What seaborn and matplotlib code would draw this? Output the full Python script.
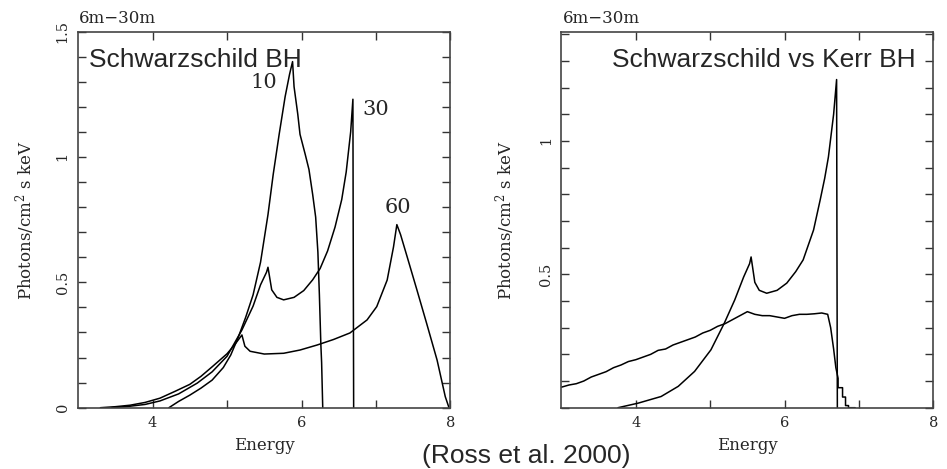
import matplotlib
matplotlib.use("Agg")
import matplotlib.pyplot as plt
import seaborn as sns
import pandas as pd
from matplotlib.ticker import MultipleLocator, FixedLocator, FuncFormatter

# ---------------- data ----------------
# Left panel: Schwarzschild BH, inclinations 10, 30, 60 deg
e10 = [4.22, 4.35, 4.5, 4.65, 4.8, 4.95, 5.05, 5.15, 5.25, 5.35, 5.45, 5.55, 5.62, 5.7,
       5.78, 5.84, 5.88, 5.9, 5.95, 5.98, 6.05, 6.1, 6.15, 6.19, 6.22, 6.24, 6.26, 6.27, 6.285]
f10 = [0.0, 0.025, 0.05, 0.078, 0.11, 0.16, 0.21, 0.28, 0.36, 0.45, 0.58, 0.77, 0.93, 1.09,
       1.24, 1.33, 1.38, 1.28, 1.17, 1.09, 1.01, 0.95, 0.85, 0.76, 0.62, 0.45, 0.25, 0.18, 0.0]

e30 = [3.45, 3.7, 3.9, 4.1, 4.35, 4.6, 4.8, 5.0, 5.2, 5.35, 5.45, 5.53, 5.55, 5.6, 5.67,
       5.76, 5.9, 6.03, 6.15, 6.25, 6.35, 6.45, 6.54, 6.6, 6.66, 6.69, 6.695, 6.70]
f30 = [0.0, 0.006, 0.013, 0.027, 0.055, 0.098, 0.143, 0.205, 0.31, 0.405, 0.49, 0.54, 0.56,
       0.47, 0.44, 0.43, 0.44, 0.467, 0.51, 0.555, 0.625, 0.72, 0.83, 0.94, 1.10, 1.23, 0.57, 0.0]

e60 = [3.3, 3.5, 3.7, 3.9, 4.1, 4.3, 4.5, 4.65, 4.8, 5.0, 5.1, 5.2, 5.24, 5.31, 5.5, 5.76,
       5.98, 6.21, 6.43, 6.65, 6.88, 7.01, 7.15, 7.235, 7.28, 7.33, 7.42, 7.55, 7.68, 7.82,
       7.93, 7.98]
f60 = [0.0, 0.004, 0.01, 0.021, 0.038, 0.065, 0.093, 0.125, 0.163, 0.215, 0.25, 0.29, 0.245,
       0.225, 0.214, 0.217, 0.23, 0.25, 0.272, 0.298, 0.35, 0.403, 0.509, 0.641, 0.73, 0.69,
       0.60, 0.469, 0.336, 0.19, 0.044, 0.0]

# Right panel: Schwarzschild vs Kerr BH
e_schw = [3.76, 4.03, 4.34, 4.57, 4.79, 5.01, 5.19, 5.33, 5.45, 5.53, 5.55, 5.6, 5.66, 5.76,
          5.9, 6.03, 6.15, 6.25, 6.39, 6.48, 6.54, 6.59, 6.66, 6.7, 6.705, 6.71]
f_schw = [0.0, 0.017, 0.042, 0.08, 0.136, 0.217, 0.317, 0.404, 0.49, 0.54, 0.565, 0.47, 0.44,
          0.429, 0.44, 0.467, 0.51, 0.554, 0.666, 0.78, 0.86, 0.94, 1.10, 1.23, 0.57, 0.0]

e_kerr = [3.0, 3.1, 3.2, 3.3, 3.4, 3.5, 3.6, 3.7, 3.8, 3.9, 4.0, 4.1, 4.2, 4.3, 4.4, 4.5,
          4.6, 4.7, 4.8, 4.9, 5.0, 5.1, 5.2, 5.3, 5.4, 5.5, 5.6, 5.7, 5.8, 5.9, 6.0, 6.1,
          6.2, 6.3, 6.4, 6.5, 6.58, 6.62, 6.66, 6.69, 6.72, 6.72, 6.78, 6.78, 6.82, 6.82,
          6.86, 6.86, 6.95]
f_kerr = [0.077, 0.085, 0.09, 0.10, 0.115, 0.125, 0.135, 0.15, 0.16, 0.173, 0.18, 0.19,
          0.20, 0.215, 0.22, 0.235, 0.245, 0.255, 0.265, 0.28, 0.29, 0.305, 0.315, 0.33,
          0.345, 0.36, 0.35, 0.345, 0.345, 0.34, 0.335, 0.345, 0.35, 0.35, 0.352, 0.355,
          0.35, 0.30, 0.22, 0.15, 0.11, 0.075, 0.075, 0.04, 0.04, 0.008, 0.008, 0.0, 0.0]

curve_labels = ["10", "30", "60"]
range_label = "6m\u221230m"
titles = ["Schwarzschild BH", "Schwarzschild vs Kerr BH"]
xlabel = "Energy"
ylabel = "Photons/cm$^2$ s keV"
credit = "(Ross et al. 2000)"

# ---------------- style ----------------
sns.set_theme(style="ticks")
plt.rcParams["font.family"] = ["DejaVu Serif"]
plt.rcParams["mathtext.fontset"] = "dejavuserif"

fig = plt.figure(figsize=(9.47, 4.69), dpi=100)
axL = fig.add_axes([0.0824, 0.1307, 0.3933, 0.8021])
axR = fig.add_axes([0.5929, 0.1307, 0.3926, 0.8021])

line_kw = dict(color="black", linewidth=1.1, estimator=None, sort=False, legend=False)

def draw(ax, e, f, **kw):
    df = pd.DataFrame({"Energy": e, "Flux": f})
    sns.lineplot(data=df, x="Energy", y="Flux", ax=ax, **line_kw, **kw)

draw(axL, e10, f10)
draw(axL, e30, f30)
draw(axL, e60, f60)
draw(axR, e_schw, f_schw)
draw(axR, e_kerr, f_kerr)

fmt = FuncFormatter(lambda v, p: "%g" % v)
for ax in (axL, axR):
    ax.set_xlim(3, 8)
    ax.xaxis.set_major_locator(FixedLocator([4, 6, 8]))
    ax.xaxis.set_minor_locator(FixedLocator([5, 7]))
    ax.yaxis.set_minor_locator(MultipleLocator(0.1))
    ax.xaxis.set_major_formatter(fmt)
    ax.yaxis.set_major_formatter(fmt)
    ax.tick_params(which="both", direction="in", top=True, right=True,
                   length=6, width=1.0, color="#333333")
    ax.tick_params(axis="x", labelsize=10.5, pad=6)
    ax.tick_params(axis="y", labelsize=10.5, pad=6, labelrotation=90)
    for s in ax.spines.values():
        s.set_color("#444444")
        s.set_linewidth(1.2)
    ax.set_xlabel(xlabel, fontsize=12, labelpad=5)
    ax.set_ylabel(ylabel, fontsize=12)
    ax.text(0.003, 1.012, range_label, transform=ax.transAxes, fontsize=12,
            ha="left", va="bottom")

axL.set_ylim(0, 1.5)
axL.yaxis.set_major_locator(FixedLocator([0, 0.5, 1, 1.5]))
axR.set_ylim(0, 1.41)
axR.yaxis.set_major_locator(FixedLocator([0.5, 1]))

for ax in (axL, axR):
    for lbl in ax.get_yticklabels():
        lbl.set_va("center")

axL.yaxis.set_label_coords(-0.110, 0.5)
axR.yaxis.set_label_coords(-0.120, 0.5)

axL.text(0.03, 0.906, titles[0], transform=axL.transAxes, fontsize=19,
         family=["Liberation Sans", "DejaVu Sans"], ha="left", va="baseline")
axR.text(0.9535, 0.906, titles[1], transform=axR.transAxes, fontsize=19,
         family=["Liberation Sans", "DejaVu Sans"], ha="right", va="baseline")

# curve labels (placed next to the peaks, in data coordinates)
axL.text(5.50, 1.295, curve_labels[0], fontsize=15, ha="center", va="center")
axL.text(6.99, 1.19, curve_labels[1], fontsize=15, ha="center", va="center")
axL.text(7.29, 0.80, curve_labels[2], fontsize=15, ha="center", va="center")

fig.text(0.556, 0.028, credit, fontsize=19, family=["Liberation Sans", "DejaVu Sans"],
         ha="center", va="center")

fig.savefig("out.png", dpi=100)
